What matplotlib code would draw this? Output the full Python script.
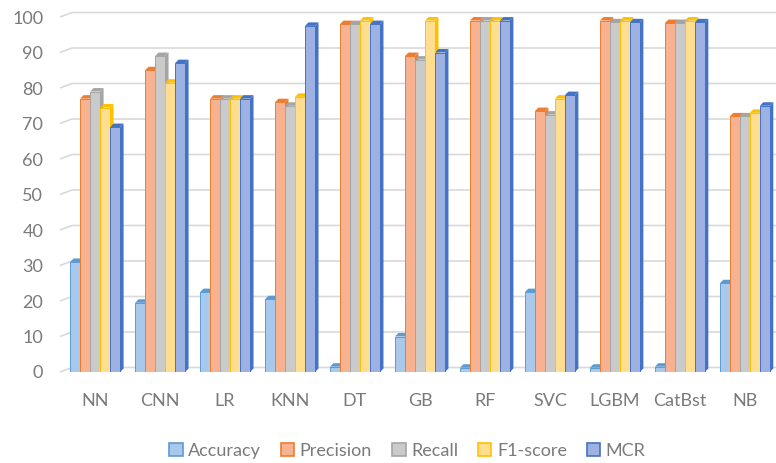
import matplotlib.pyplot as plt
from matplotlib.patches import Polygon, Rectangle, Patch

models = ['NN', 'CNN', 'LR', 'KNN', 'DT', 'GB', 'RF', 'SVC', 'LGBM', 'CatBst', 'NB']
accuracy = [31, 19.5, 22.5, 20.5, 1.5, 10, 1.2, 22.5, 1.2, 1.5, 25]
precision = [77, 85, 77, 76, 98, 89, 99, 73.5, 99, 98.3, 72]
recall = [79, 89, 77, 75, 98, 88, 99, 72.5, 98.5, 98.3, 72]
f1_score = [74.5, 81.5, 77, 77.5, 99, 99, 99, 77, 99, 99, 73]
mcr = [69, 87, 77, 97.5, 98, 90, 99, 78, 98.5, 98.5, 75]
metrics = ['Accuracy', 'Precision', 'Recall', 'F1-score', 'MCR']
y_ticks = list(range(0, 101, 10))

series = [accuracy, precision, recall, f1_score, mcr]
front_colors = ['#a9c9ec', '#f8b290', '#cacaca', '#ffde90', '#9db2e2']
dark_colors = ['#5b9bd5', '#ed7d31', '#a5a5a5', '#ffc000', '#4472c4']
text_color = '#7a7a7a'

plt.rcParams['font.family'] = ['Lato', 'DejaVu Sans']

W, H = 776, 463
fig = plt.figure(figsize=(W / 100, H / 100), dpi=100)
ax = fig.add_axes([60 / W, 91 / H, 716 / W, 355 / H])
xmin, xmax = -0.54, 10.48
ax.set_xlim(xmin, xmax)
ax.set_ylim(0, 100)

# pixel -> data unit sizes (fixed figure size)
px_x = (xmax - xmin) / 716
px_y = 100 / 355

# back-wall gridlines with a small slanted floor edge
gdx, gdy = 12 * px_x, 4.5 * px_y
for v in y_ticks:
    ax.plot([xmin, xmin + gdx, xmax], [v, v + gdy, v + gdy],
            color='#d9d9d9', lw=1.2, zorder=1, clip_on=False,
            solid_capstyle='butt')

# 3d-look bars: darker side + top, lighter front face
w = 10 * px_x
ddx, ddy = 3.5 * px_x, 3.5 * px_y
for j, vals in enumerate(series):
    for i, h in enumerate(vals):
        x0 = i + (j - 2.5) * w
        side = Polygon([(x0 + w, 0), (x0 + w + ddx, ddy), (x0 + w + ddx, h + ddy), (x0 + w, h)],
                       closed=True, facecolor=dark_colors[j], edgecolor='none', zorder=2)
        top = Polygon([(x0, h), (x0 + ddx, h + ddy), (x0 + w + ddx, h + ddy), (x0 + w, h)],
                      closed=True, facecolor=dark_colors[j], edgecolor='none', zorder=2)
        front = Rectangle((x0, 0), w, h, facecolor=front_colors[j],
                          edgecolor=dark_colors[j], lw=0.7, zorder=3)
        ax.add_patch(side)
        ax.add_patch(top)
        ax.add_patch(front)

ax.set_xticks(range(len(models)), models)
ax.set_yticks(y_ticks)
ax.tick_params(axis='x', length=0, pad=15, labelsize=13, labelcolor=text_color)
ax.tick_params(axis='y', length=0, pad=12, labelsize=13, labelcolor=text_color)
for s in ax.spines.values():
    s.set_visible(False)

handles = [Patch(facecolor=front_colors[j], edgecolor=dark_colors[j], lw=1.2)
           for j in range(len(metrics))]
leg = fig.legend(handles, metrics, loc='center', bbox_to_anchor=(0.525, 1 - 451 / H),
                 ncol=5, frameon=False, handlelength=0.75, handleheight=0.75,
                 handletextpad=0.3, columnspacing=1.1, fontsize=13)
for t in leg.get_texts():
    t.set_color(text_color)

fig.savefig('out.png', dpi=100)
